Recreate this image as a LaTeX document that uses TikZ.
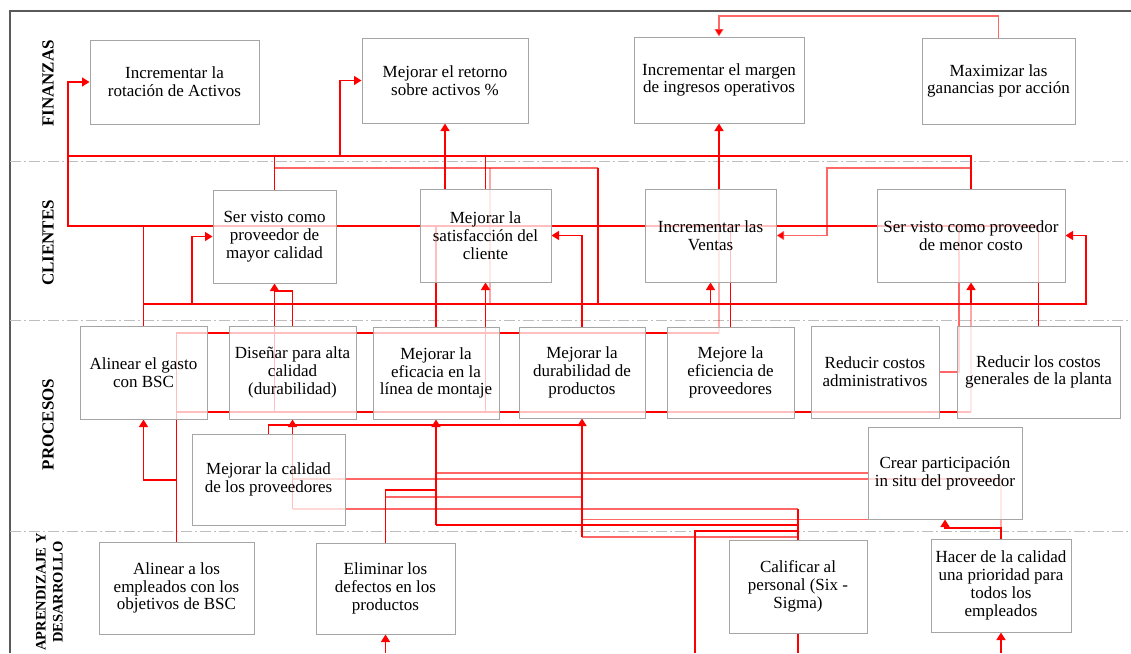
\documentclass[tikz,border=0pt]{standalone}
\usepackage{fontspec}
\setmainfont{Liberation Serif}
\usetikzlibrary{arrows.meta}
\pgfdeclarelayer{bg}
\pgfsetlayers{bg,main}
\definecolor{boxgray}{RGB}{165,165,165}
\definecolor{sepgray}{RGB}{190,190,190}
\definecolor{framegray}{RGB}{90,90,90}
\definecolor{lnred}{RGB}{255,0,0}
\begin{document}
\begin{tikzpicture}[x=1pt,y=-1pt,
  ln/.style={draw=lnred, line width=1.4pt},
  lnm/.style={ln, draw opacity=0.6},
  lnf/.style={ln, draw opacity=0.35},
  arr/.style={-{Triangle[width=9pt,length=7.5pt]}},
  box/.style={draw=boxgray, line width=1pt, fill=white, fill opacity=0.75, text opacity=1, inner sep=0pt, align=center, font=\fontsize{17}{17.8}\selectfont},
  lane/.style={rotate=90, align=center, font=\fontsize{17}{17}\selectfont\bfseries},
  sep/.style={draw=sepgray, line width=0.9pt, dash pattern=on 11pt off 3pt on 2pt off 3pt},
  frm/.style={draw=framegray, line width=1.2pt}]
\useasboundingbox (0,0) rectangle (1131,653);

% lane labels
\node[lane] (lf) at (48,83.5) {FINANZAS};
\node[lane] (lc) at (48,243) {CLIENTES};
\node[lane] (lp) at (48,424.5) {PROCESOS};
\node[lane, font=\fontsize{14.5}{17}\selectfont\bfseries] (la) at (49.5,592) {APRENDIZAJE Y\\DESARROLLO};

% boxes
\node[box,minimum width=169pt,minimum height=84pt] (b1) at (174.5,82) {Incrementar la\\rotación de Activos};
\node[box,minimum width=166pt,minimum height=85pt] (b2) at (445,80.5) {Mejorar el retorno\\sobre activos \%};
\node[box,minimum width=170pt,minimum height=86pt] (b3) at (719,80) {Incrementar el margen\\de ingresos operativos};
\node[box,minimum width=153pt,minimum height=86pt] (b4) at (998.5,81) {Maximizar las\\ganancias por acción};
\node[box,minimum width=123pt,minimum height=93pt] (b5) at (274.5,236.5) {Ser visto como\\proveedor de\\mayor calidad};
\node[box,minimum width=131pt,minimum height=93pt] (b6) at (485.5,235.5) {Mejorar la\\satisfacción del\\cliente};
\node[box,minimum width=131pt,minimum height=93pt] (b7) at (710.5,235.5) {Incrementar las\\Ventas};
\node[box,minimum width=188pt,minimum height=93pt] (b8) at (971,235.5) {Ser visto como proveedor\\de menor costo};
\node[box,minimum width=127pt,minimum height=93pt] (b9) at (143.5,372.5) {Alinear el gasto\\con BSC};
\node[box,minimum width=127pt,minimum height=93pt] (b10) at (292.5,372.5) {Diseñar para alta\\calidad\\(durabilidad)};
\node[box,minimum width=126pt,minimum height=92pt] (b11) at (436,373) {Mejorar la\\eficacia en la\\línea de montaje};
\node[box,minimum width=126pt,minimum height=91pt] (b12) at (582,372.5) {Mejorar la\\durabilidad de\\productos};
\node[box,minimum width=127pt,minimum height=91pt] (b13) at (730.5,372.5) {Mejore la\\eficiencia de\\proveedores};
\node[box,minimum width=128pt,minimum height=92pt] (b14) at (875,372) {Reducir costos\\administrativos};
\node[box,minimum width=163pt,minimum height=92pt] (b15) at (1038.5,372) {Reducir los costos\\generales de la planta};
\node[box,minimum width=153pt,minimum height=91pt] (b16) at (268.5,479.5) {Mejorar la calidad\\de los proveedores};
\node[box,minimum width=154pt,minimum height=92pt] (b17) at (945,473) {Crear participación\\in situ del proveedor};
\node[box,minimum width=155pt,minimum height=92pt] (b18) at (176.5,588) {Alinear a los\\empleados con los\\objetivos de BSC};
\node[box,minimum width=139pt,minimum height=91pt] (b19) at (385.5,588.5) {Eliminar los\\defectos en los\\productos};
\node[box,minimum width=138pt,minimum height=93pt] (b20) at (798,586.5) {Calificar al\\personal (Six -\\Sigma)};
\node[box,minimum width=140pt,minimum height=93pt] (b21) at (1001,585.5) {Hacer de la calidad\\una prioridad para\\todos los\\empleados};

\begin{pgfonlayer}{bg}
% frame and lane separators
\draw[frm] (10,653) -- (10,11) -- (1131,11);
\draw[sep] (10,161) -- (1131,161);
\draw[sep] (10,320) -- (1131,320);
\draw[sep] (10,531) -- (1131,531);

% finance links
\draw[lnm,arr] (b4.north) -- (b4.north |- 0,16) -| (b3.north);
\draw[ln,arr] (b7.north -| b3.south) -- (b3.south);
\draw[ln,arr] (b6.north -| b2.south) -- (b2.south);

% y=156 network
\draw[ln,arr] (b8.north) |- (68,156) |- (b1.west);
\draw[ln] (b5.north) -- (b5.north |- 0,156);
\draw[ln] (b6.north) -- (b6.north |- 0,156);
\draw[ln,arr] (340,156) |- (b2.west);

% y=168 network
\draw[lnm] (b5.north |- 0,168) -- (598,168);
\draw[ln] (598,168) -- (598,304);
\draw[lnf] (490,168) -- (490,304);
\draw[lnm,arr] (b8.north |- 0,168) -| (b7.east -| 827,0) -- (b7.east);

% y=226 network
\draw[ln] (68,156) -- (68,226) -- (b15.north |- 0,226) -- (b15.north);
\draw[ln] (b9.north) -- (b9.north |- 0,226);
\draw[ln] (b11.north) -- (b11.north |- 0,226);
\draw[ln] (b13.north) -- (b13.north |- 0,226);
\draw[lnm] (b14.east) -| (959,226);

% y=304 network
\draw[ln,arr] (b9.north |- 0,304) -| (b8.east -| 1086,0) -- (b8.east);
\draw[ln,arr] (192,304) |- (b5.west);
\draw[ln,arr] (b7.south |- 0,304) -- (b7.south);
\draw[ln,arr] (b8.south |- 0,304) -- (b8.south);

% process to clients
\draw[ln,arr] (b10.north) -- (b10.north |- 0,291) -| (b5.south);
\draw[ln,arr] (b11.north -| b6.south) -- (b6.south);
\draw[ln,arr] (b12.north) |- (b6.east);

% process row lines
\draw[ln] (b18.north) -- (b18.north |- 0,333) -- (719,333);
\draw[lnf] (719,333) -- (719,189);
\draw[ln] (b18.north |- 0,412) -- (b8.south |- 0,412);
\draw[lnf] (b8.south |- 0,412) -- (b8.south |- 0,304);
\draw[ln] (b5.south |- 0,412) -- (b5.south);
\draw[ln] (b6.south |- 0,412) -- (b6.south);
\draw[ln,arr] (b18.north |- 0,480) -| (b9.south);

% feeders into process boxes from below
\draw[ln] (b16.north) |- (b12.south |- 0,425);
\draw[ln,arr] (b10.south |- 0,509) -- (b10.south);
\draw[ln,arr] (b11.south |- 0,525) -- (b11.south);
\draw[ln,arr] (b12.south |- 0,537) -- (b12.south);

% Crear participacion
\draw[lnm] (b17.west) -- (b11.south |- b17.west);
\draw[lnm] (1001,479) -- (b10.south |- 0,479);
\draw[lnf] (1001,479) -- (1001,528);
\draw[ln,arr] (b21.north) |- (b17.south |- 0,528) -- (b17.south);
\draw[lnm] (b17.south west) -- (b12.south |- b17.south west);

% Eliminar los defectos
\draw[ln] (b19.north) |- (b11.south |- 0,490);
\draw[lnm] (b19.north |- 0,497) -- (b12.south |- 0,497);

% Calificar al personal
\draw[ln] (b20.north) -- (b20.north |- 0,509);
\draw[lnm] (b20.north |- 0,509) -- (b10.south |- 0,509);
\draw[ln] (b20.north |- 0,525) -- (b11.south |- 0,525);
\draw[ln] (b20.north |- 0,531) -- (695,531) -- (695,653);
\draw[lnm] (b20.north |- 0,537) -- (b12.south |- 0,537);

% from below the visible area
\draw[ln,arr] (b19.south |- 0,653) -- (b19.south);
\draw[ln,arr] (b21.south |- 0,653) -- (b21.south);
\draw[ln] (b20.south) -- (b20.south |- 0,653);
\end{pgfonlayer}
\end{tikzpicture}
\end{document}
